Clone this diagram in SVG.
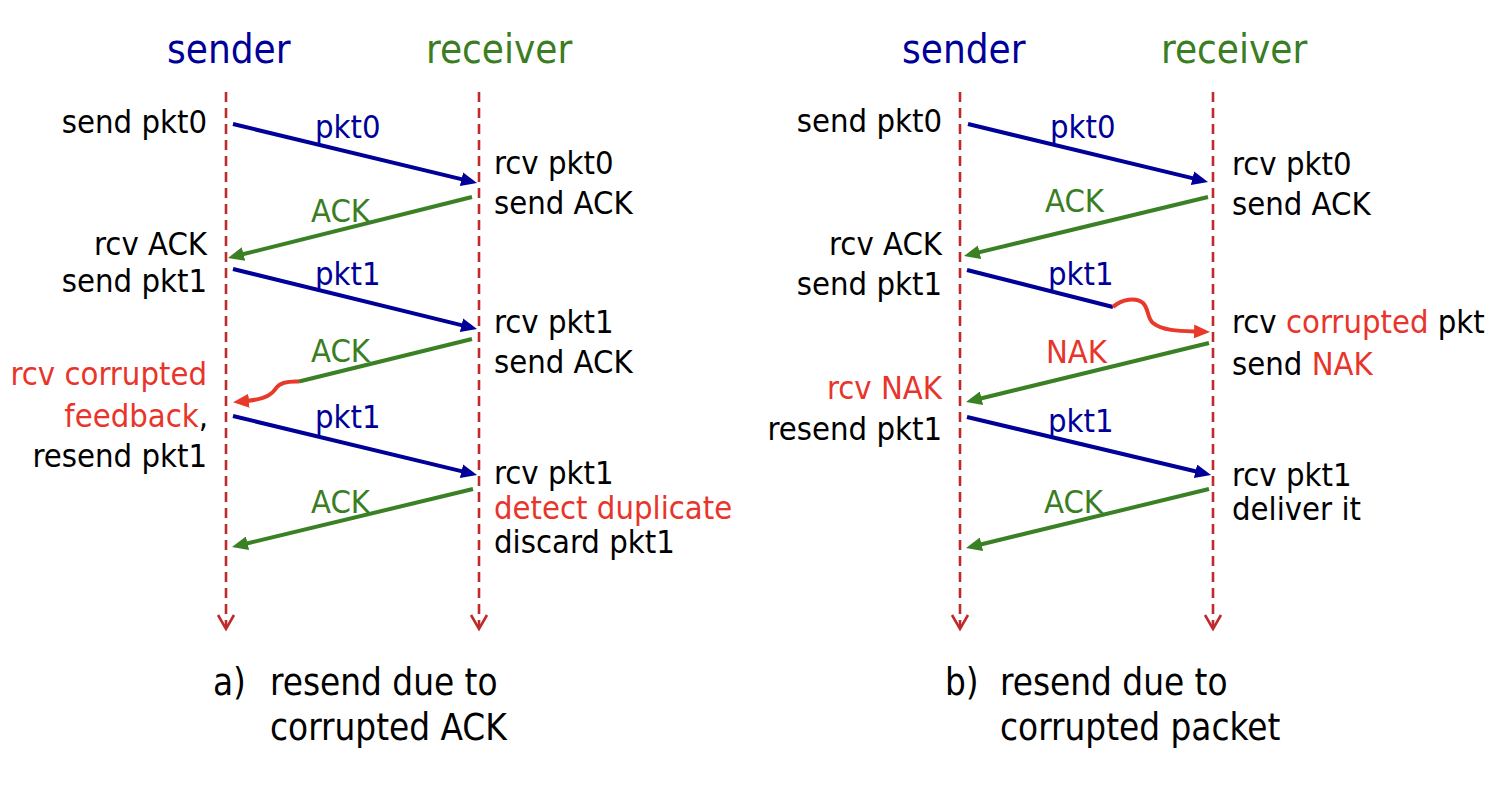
<svg xmlns="http://www.w3.org/2000/svg" width="1508" height="798" viewBox="0 0 1508 798">
  <style>
    text { font-family: "DejaVu Sans Condensed", "DejaVu Sans", "Verdana", sans-serif; font-stretch: condensed; font-size: 32.5px; fill: #000; }
    .title { font-size: 40px; }
    .cap { font-size: 36.5px; }
    .blue { fill: #000099; }
    .green { fill: #3a7d22; }
    .red { fill: #e8352b; }
    .end { text-anchor: end; }
    .life { stroke: #bd2b2b; stroke-width: 2.6; stroke-dasharray: 10 6; fill: none; }
    .lifehead { stroke: #bd2b2b; stroke-width: 2.6; fill: none; }
    .msg-b { stroke: #000099; stroke-width: 4; fill: none; marker-end: url(#ah-blue); }
    .msg-g { stroke: #3a8024; stroke-width: 4; fill: none; marker-end: url(#ah-green); }
    .msg-g0 { stroke: #3a8024; stroke-width: 4; fill: none; }
    .msg-b0 { stroke: #000099; stroke-width: 4; fill: none; }
    .msg-r { stroke: #e8392b; stroke-width: 4; fill: none; marker-end: url(#ah-red); }
  </style>
  <defs>
    <marker id="ah-blue" markerUnits="userSpaceOnUse" markerWidth="16" markerHeight="14" refX="3" refY="7" orient="auto">
      <path d="M0,0 L16,7 L0,14 Z" fill="#000099"/>
    </marker>
    <marker id="ah-green" markerUnits="userSpaceOnUse" markerWidth="16" markerHeight="14" refX="3" refY="7" orient="auto">
      <path d="M0,0 L16,7 L0,14 Z" fill="#3a8024"/>
    </marker>
    <marker id="ah-red" markerUnits="userSpaceOnUse" markerWidth="16" markerHeight="14" refX="3" refY="7" orient="auto">
      <path d="M0,0 L16,7 L0,14 Z" fill="#e8392b"/>
    </marker>
  </defs>
  <rect width="1508" height="798" fill="#ffffff"/>

  <!-- (a) resend due to corrupted ACK -->
  <g id="a-sender">
    <text class="title blue" x="167" y="63">sender</text>
    <line class="life" x1="226" y1="92" x2="226" y2="627"/>
    <polyline class="lifehead" points="218,615 226,629 234,615"/>
  </g>
  <g id="a-receiver">
    <text class="title green" x="426" y="63">receiver</text>
    <line class="life" x1="479" y1="92" x2="479" y2="627"/>
    <polyline class="lifehead" points="471,615 479,629 487,615"/>
  </g>
  <g id="a-sender-events">
    <text class="end" x="207" y="133">send pkt0</text>
    <text class="end" x="207" y="255">rcv ACK</text>
    <text class="end" x="207" y="292">send pkt1</text>
    <text class="end red" x="207" y="385">rcv corrupted</text>
    <text class="end" x="208" y="427"><tspan class="red">feedback</tspan>,</text>
    <text class="end" x="207" y="467">resend pkt1</text>
  </g>
  <g id="a-receiver-events">
    <text x="494" y="174">rcv pkt0</text>
    <text x="494" y="214">send ACK</text>
    <text x="494" y="333">rcv pkt1</text>
    <text x="494" y="373">send ACK</text>
    <text x="494" y="484">rcv pkt1</text>
    <text class="red" x="494" y="519">detect duplicate</text>
    <text x="494" y="553">discard pkt1</text>
  </g>
  <g id="a-caption">
    <text class="cap" x="213" y="695">a)</text>
    <text class="cap" x="270" y="695">resend due to</text>
    <text class="cap" x="270" y="740">corrupted ACK</text>
  </g>

  <!-- (b) resend due to corrupted packet -->
  <g id="b-sender">
    <text class="title blue" x="902" y="63">sender</text>
    <line class="life" x1="960" y1="92" x2="960" y2="627"/>
    <polyline class="lifehead" points="952,615 960,629 968,615"/>
  </g>
  <g id="b-receiver">
    <text class="title green" x="1161" y="63">receiver</text>
    <line class="life" x1="1213" y1="92" x2="1213" y2="627"/>
    <polyline class="lifehead" points="1205,615 1213,629 1221,615"/>
  </g>
  <g id="b-sender-events">
    <text class="end" x="942" y="132">send pkt0</text>
    <text class="end" x="942" y="255">rcv ACK</text>
    <text class="end" x="942" y="295">send pkt1</text>
    <text class="end red" x="942" y="399">rcv NAK</text>
    <text class="end" x="942" y="440">resend pkt1</text>
  </g>
  <g id="b-receiver-events">
    <text x="1232" y="175">rcv pkt0</text>
    <text x="1232" y="215">send ACK</text>
    <text x="1232" y="333">rcv <tspan class="red">corrupted</tspan> pkt</text>
    <text x="1232" y="375">send <tspan class="red">NAK</tspan></text>
    <text x="1232" y="486">rcv pkt1</text>
    <text x="1232" y="520">deliver it</text>
  </g>
  <g id="b-caption">
    <text class="cap" x="945" y="695">b)</text>
    <text class="cap" x="1000" y="695">resend due to</text>
    <text class="cap" x="1000" y="740">corrupted packet</text>
  </g>

  <!-- messages -->
  <g id="connectors">
    <!-- panel a -->
    <line class="msg-b" x1="233" y1="124" x2="464.4" y2="179.9"/>
    <text class="blue" x="315" y="138">pkt0</text>
    <line class="msg-g" x1="472" y1="197" x2="240.6" y2="254.8"/>
    <text class="green" x="311" y="222">ACK</text>
    <line class="msg-b" x1="233" y1="269" x2="464.4" y2="325.9"/>
    <text class="blue" x="315" y="285">pkt1</text>
    <line class="msg-g0" x1="472" y1="339" x2="299" y2="381.5"/>
    <path class="msg-r" d="M299,381.5 C288,381 281,382 277,387 C273,393 268,399 246,401"/>
    <text class="green" x="311" y="362">ACK</text>
    <line class="msg-b" x1="233" y1="416" x2="464.4" y2="471.9"/>
    <text class="blue" x="315" y="428">pkt1</text>
    <line class="msg-g" x1="473" y1="489" x2="244.6" y2="544"/>
    <text class="green" x="311" y="513">ACK</text>

    <!-- panel b -->
    <line class="msg-b" x1="968" y1="124" x2="1195.4" y2="178.9"/>
    <text class="blue" x="1050" y="138">pkt0</text>
    <line class="msg-g" x1="1208" y1="197" x2="976.6" y2="252.9"/>
    <text class="green" x="1045" y="212">ACK</text>
    <line class="msg-b0" x1="967" y1="270" x2="1113" y2="307"/>
    <path class="msg-r" d="M1113,307 C1122,299 1136,297 1143,303 C1149,309 1147,318 1153,323 C1163,331 1180,331 1197,331.5"/>
    <text class="blue" x="1048" y="285">pkt1</text>
    <line class="msg-g" x1="1209" y1="343" x2="978.6" y2="399"/>
    <text class="red" x="1046" y="363">NAK</text>
    <line class="msg-b" x1="967" y1="417" x2="1198.4" y2="472"/>
    <text class="blue" x="1048" y="432">pkt1</text>
    <line class="msg-g" x1="1209" y1="489" x2="978.6" y2="545"/>
    <text class="green" x="1044" y="513">ACK</text>
  </g>
</svg>
